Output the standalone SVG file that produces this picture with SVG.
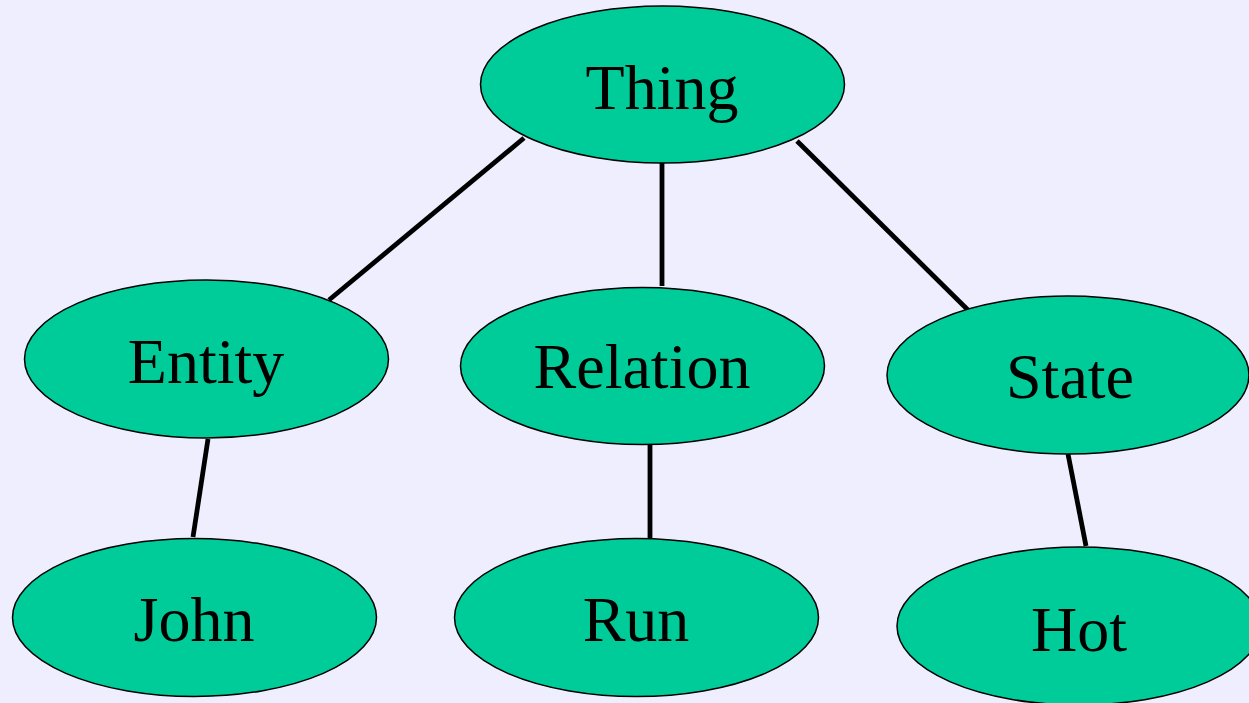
<svg xmlns="http://www.w3.org/2000/svg" width="1249" height="703" viewBox="0 0 1249 703">
  <style>
    .node ellipse { fill: #00CC99; stroke: #000; stroke-width: 1.5; }
    .node text { font-family: "Liberation Serif", "Times New Roman", serif; font-size: 64px; fill: #000; text-anchor: middle; }
    #edges line { stroke: #000; stroke-width: 4.8; }
  </style>
  <rect width="1249" height="703" fill="#EEEEFF"/>

  <g id="edges">
    <line x1="524" y1="138" x2="329" y2="300"/>
    <line x1="662" y1="163" x2="662" y2="286"/>
    <line x1="797" y1="141" x2="971" y2="313"/>
    <line x1="208" y1="439" x2="193" y2="537"/>
    <line x1="650" y1="445" x2="650" y2="543"/>
    <line x1="1068" y1="454" x2="1086" y2="546"/>
  </g>

  <g id="thing" class="node">
    <ellipse cx="662.5" cy="84.5" rx="182" ry="78.5"/>
    <text x="662" y="109">Thing</text>
  </g>
  <g id="entity" class="node">
    <ellipse cx="206.5" cy="359" rx="182" ry="79"/>
    <text x="206" y="383">Entity</text>
  </g>
  <g id="relation" class="node">
    <ellipse cx="642.5" cy="366" rx="182" ry="78.5"/>
    <text x="642" y="388">Relation</text>
  </g>
  <g id="state" class="node">
    <ellipse cx="1068" cy="375" rx="181" ry="79"/>
    <text x="1070" y="398">State</text>
  </g>
  <g id="john" class="node">
    <ellipse cx="194.5" cy="617.5" rx="182" ry="79"/>
    <text x="194" y="641">John</text>
  </g>
  <g id="run" class="node">
    <ellipse cx="636.5" cy="617.5" rx="182" ry="79"/>
    <text x="636" y="641">Run</text>
  </g>
  <g id="hot" class="node">
    <ellipse cx="1079" cy="626" rx="182" ry="79"/>
    <text x="1079" y="651">Hot</text>
  </g>
</svg>
